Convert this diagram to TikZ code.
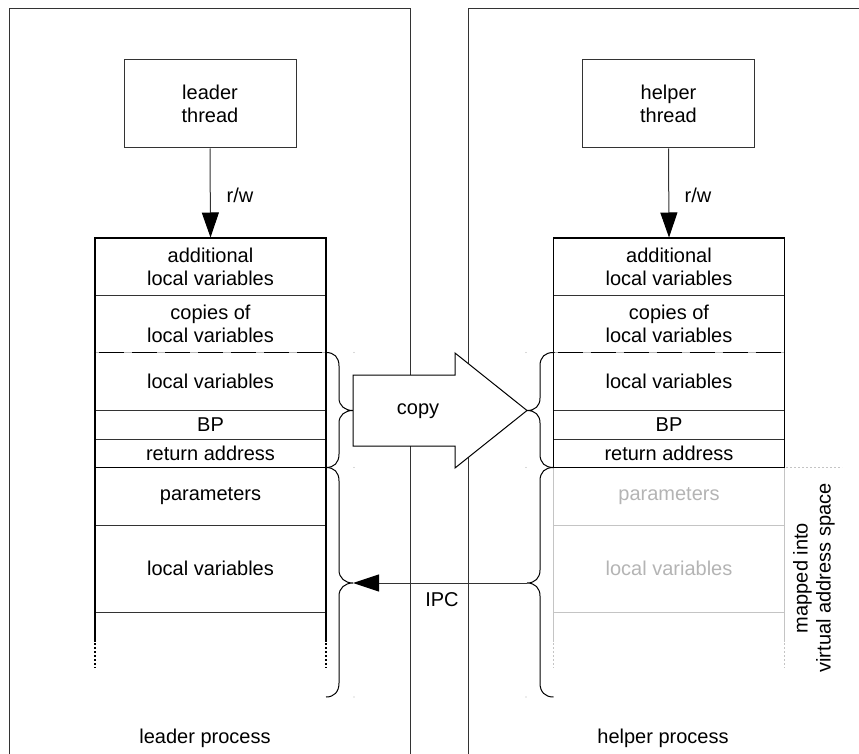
\documentclass[tikz,border=0pt]{standalone}
\usepackage{fontspec}
\setmainfont{Liberation Sans}
\usetikzlibrary{arrows.meta,calc}
\definecolor{ink}{HTML}{333333}
\definecolor{ghost}{HTML}{C4C4C4}
\definecolor{ghosttext}{HTML}{B4B4B4}
\tikzset{
  lbl/.style={font=\fontsize{20}{23}\selectfont, align=center, inner sep=0pt},
  frame/.style={draw=ink, line width=1pt},
  cell/.style={lbl, rectangle, minimum width=231pt, draw=ink, line width=1pt},
  ghostcell/.style={cell, draw=ghost, text=ghosttext},
  threadbox/.style={lbl, rectangle, draw=ink, line width=1pt, minimum width=172pt, minimum height=88pt},
  stackedge/.style={line width=1.8pt, draw=black},
  stackdots/.style={line width=1.8pt, draw=black, dash pattern=on 2pt off 2pt},
  brace/.style={draw=black, line width=1pt},
  pin/.style={fill=gray!60, circle, inner sep=0pt, minimum size=1.4pt},
  rwarrow/.style={-{Triangle[length=25pt,width=17pt,black]}, line width=1pt, draw=ink},
  ipcarrow/.style={-{Triangle[length=26pt,width=17pt,black]}, line width=1pt, draw=ink},
  seam/.style={line width=1.8pt, draw=gray!55},
  seamdash/.style={line width=1.8pt, draw=black, dash pattern=on 25pt off 8pt, dash phase=-3pt},
}
\begin{document}
\begin{tikzpicture}[x=1pt,y=-1pt]
\useasboundingbox (0,0) rectangle (859,754);
\clip (0,0) rectangle (859,754);

% process frames
\draw[frame] (9.5,770) -- (9.5,8.5) -- (410.5,8.5) -- (410.5,770);
\draw[frame] (468.5,770) -- (468.5,8.5) -- (880,8.5);

% threads
\node[threadbox] (lt) at (210,104) {leader\\thread};
\node[threadbox] (ht) at (668.5,104) {helper\\thread};

% leader stack
\node[cell, minimum height=57pt]   (la) at (210.5,266.5)  {additional\\local variables};
\node[cell, minimum height=57.5pt] (lc) at (210.5,323.75) {copies of\\local variables};
\node[cell, minimum height=58pt]   (ll) at (210.5,381.5)  {local variables};
\node[cell, minimum height=28.5pt] (lb) at (210.5,424.75) {BP};
\node[cell, minimum height=28.5pt] (lr) at (210.5,453.25) {return address};
\node[cell, minimum height=57.5pt] (lp) at (210.5,496.25) {parameters};
\node[cell, minimum height=87pt]   (lv) at (210.5,568.5)  {local variables};
\draw[draw=white, line width=3pt] (95,612.6) -- (95,650) (326,612.6) -- (326,650);
\draw[stackedge] (95,642) -- (95,238) -- (326,238) -- (326,642);
\draw[stackedge] (95,467.5) -- (326,467.5);
\draw[stackdots] (95,643) -- (95,668) (326,643) -- (326,668);
\draw[seam] (96,352.5) -- (325,352.5);
\draw[seamdash] (96,352.5) -- (325,352.5);

% helper stack
\node[cell, minimum height=57pt]   (ha) at (669,266.5)  {additional\\local variables};
\node[cell, minimum height=57.5pt] (hc) at (669,323.75) {copies of\\local variables};
\node[cell, minimum height=58pt]   (hl) at (669,381.5)  {local variables};
\node[cell, minimum height=28.5pt] (hb) at (669,424.75) {BP};
\node[cell, minimum height=28.5pt] (hr) at (669,453.25) {return address};
\node[ghostcell, minimum height=57.5pt] (hp) at (669,496.25) {parameters};
\node[ghostcell, minimum height=87pt]   (hv) at (669,568.5)  {local variables};
\draw[draw=white, line width=3pt] (553.5,612.6) -- (553.5,650) (784.5,612.6) -- (784.5,650);
\draw[draw=ghost, line width=1.4pt] (553.5,467.5) -- (553.5,642) (784.5,467.5) -- (784.5,642);
\draw[draw=ghost, line width=1.4pt, dash pattern=on 2pt off 2pt] (553.5,643) -- (553.5,668) (784.5,643) -- (784.5,668);
\draw[stackedge] (553.5,467.5) -- (553.5,238) -- (784.5,238) -- (784.5,467.5);
\draw[stackedge] (553.5,467.5) -- (784.5,467.5);
\draw[seam] (554.5,352.5) -- (783.5,352.5);
\draw[seamdash] (554.5,352.5) -- (783.5,352.5);
\draw[draw=ghost, line width=1.2pt, dash pattern=on 2pt off 2pt] (786,467.5) -- (842,467.5);

% read/write access
\draw[rwarrow] (lt.south) -- (la.north);
\draw[rwarrow] (ht.south) -- (ha.north);
\node[lbl] (lrw) at (240,195) {r/w};
\node[lbl] (hrw) at (698,195) {r/w};

% braces
\coordinate (lct) at (353,410.5);
\coordinate (hct) at (527,410.5);
\coordinate (lit) at (353,583);
\coordinate (hit) at (527,583);
\draw[brace] (326,352.5) .. controls (334,352.5) and (339,357) .. (339,366) -- (339,398)
  .. controls (339,406) and (345,410.5) .. (lct)
  .. controls (345,410.5) and (339,415) .. (339,423) -- (339,454)
  .. controls (339,463) and (334,467.5) .. (326,467.5);
\draw[brace] (553.5,352.5) .. controls (545,352.5) and (540,357) .. (540,366) -- (540,398)
  .. controls (540,406) and (535,410.5) .. (hct)
  .. controls (535,410.5) and (540,415) .. (540,423) -- (540,454)
  .. controls (540,463) and (545,467.5) .. (553.5,467.5);
\draw[brace] (326,467.5) .. controls (334,467.5) and (339,472) .. (339,481) -- (339,570)
  .. controls (339,578) and (345,583) .. (lit)
  .. controls (345,583) and (339,588) .. (339,596) -- (339,683)
  .. controls (339,692) and (334,697) .. (326,697);
\draw[brace] (553.5,467.5) .. controls (545,467.5) and (540,472) .. (540,481) -- (540,570)
  .. controls (540,578) and (535,583) .. (hit)
  .. controls (535,583) and (540,588) .. (540,596) -- (540,683)
  .. controls (540,692) and (545,697) .. (553.5,697);
\foreach \px/\py/\pn in {354/352.5/a, 354/467.5/b, 354/697/c, 526/352.5/d, 526/467.5/e, 526/697/f}
  \node[pin] (pin\pn) at (\px,\py) {};

% copy arrow
\draw[draw=black, fill=white, line width=1pt, line join=miter]
  (lct) -- ++(0,-35.5) -- ++(102,0) -- ++(0,-22) -- (hct)
  -- ++(-72,57.5) -- ++(0,-22) -- ++(-102,0) -- cycle;
\node[lbl] (copy) at (418,411) {copy};

% IPC
\draw[ipcarrow] (hit) -- (lit);
\node[lbl] (ipc) at (442,600) {IPC};

% annotations
\node[lbl, rotate=90] (vas) at (814,578) {mapped into\\virtual address space};
\node[lbl] (lproc) at (205,738) {leader process};
\node[lbl] (hproc) at (663,738) {helper process};
\end{tikzpicture}
\end{document}
